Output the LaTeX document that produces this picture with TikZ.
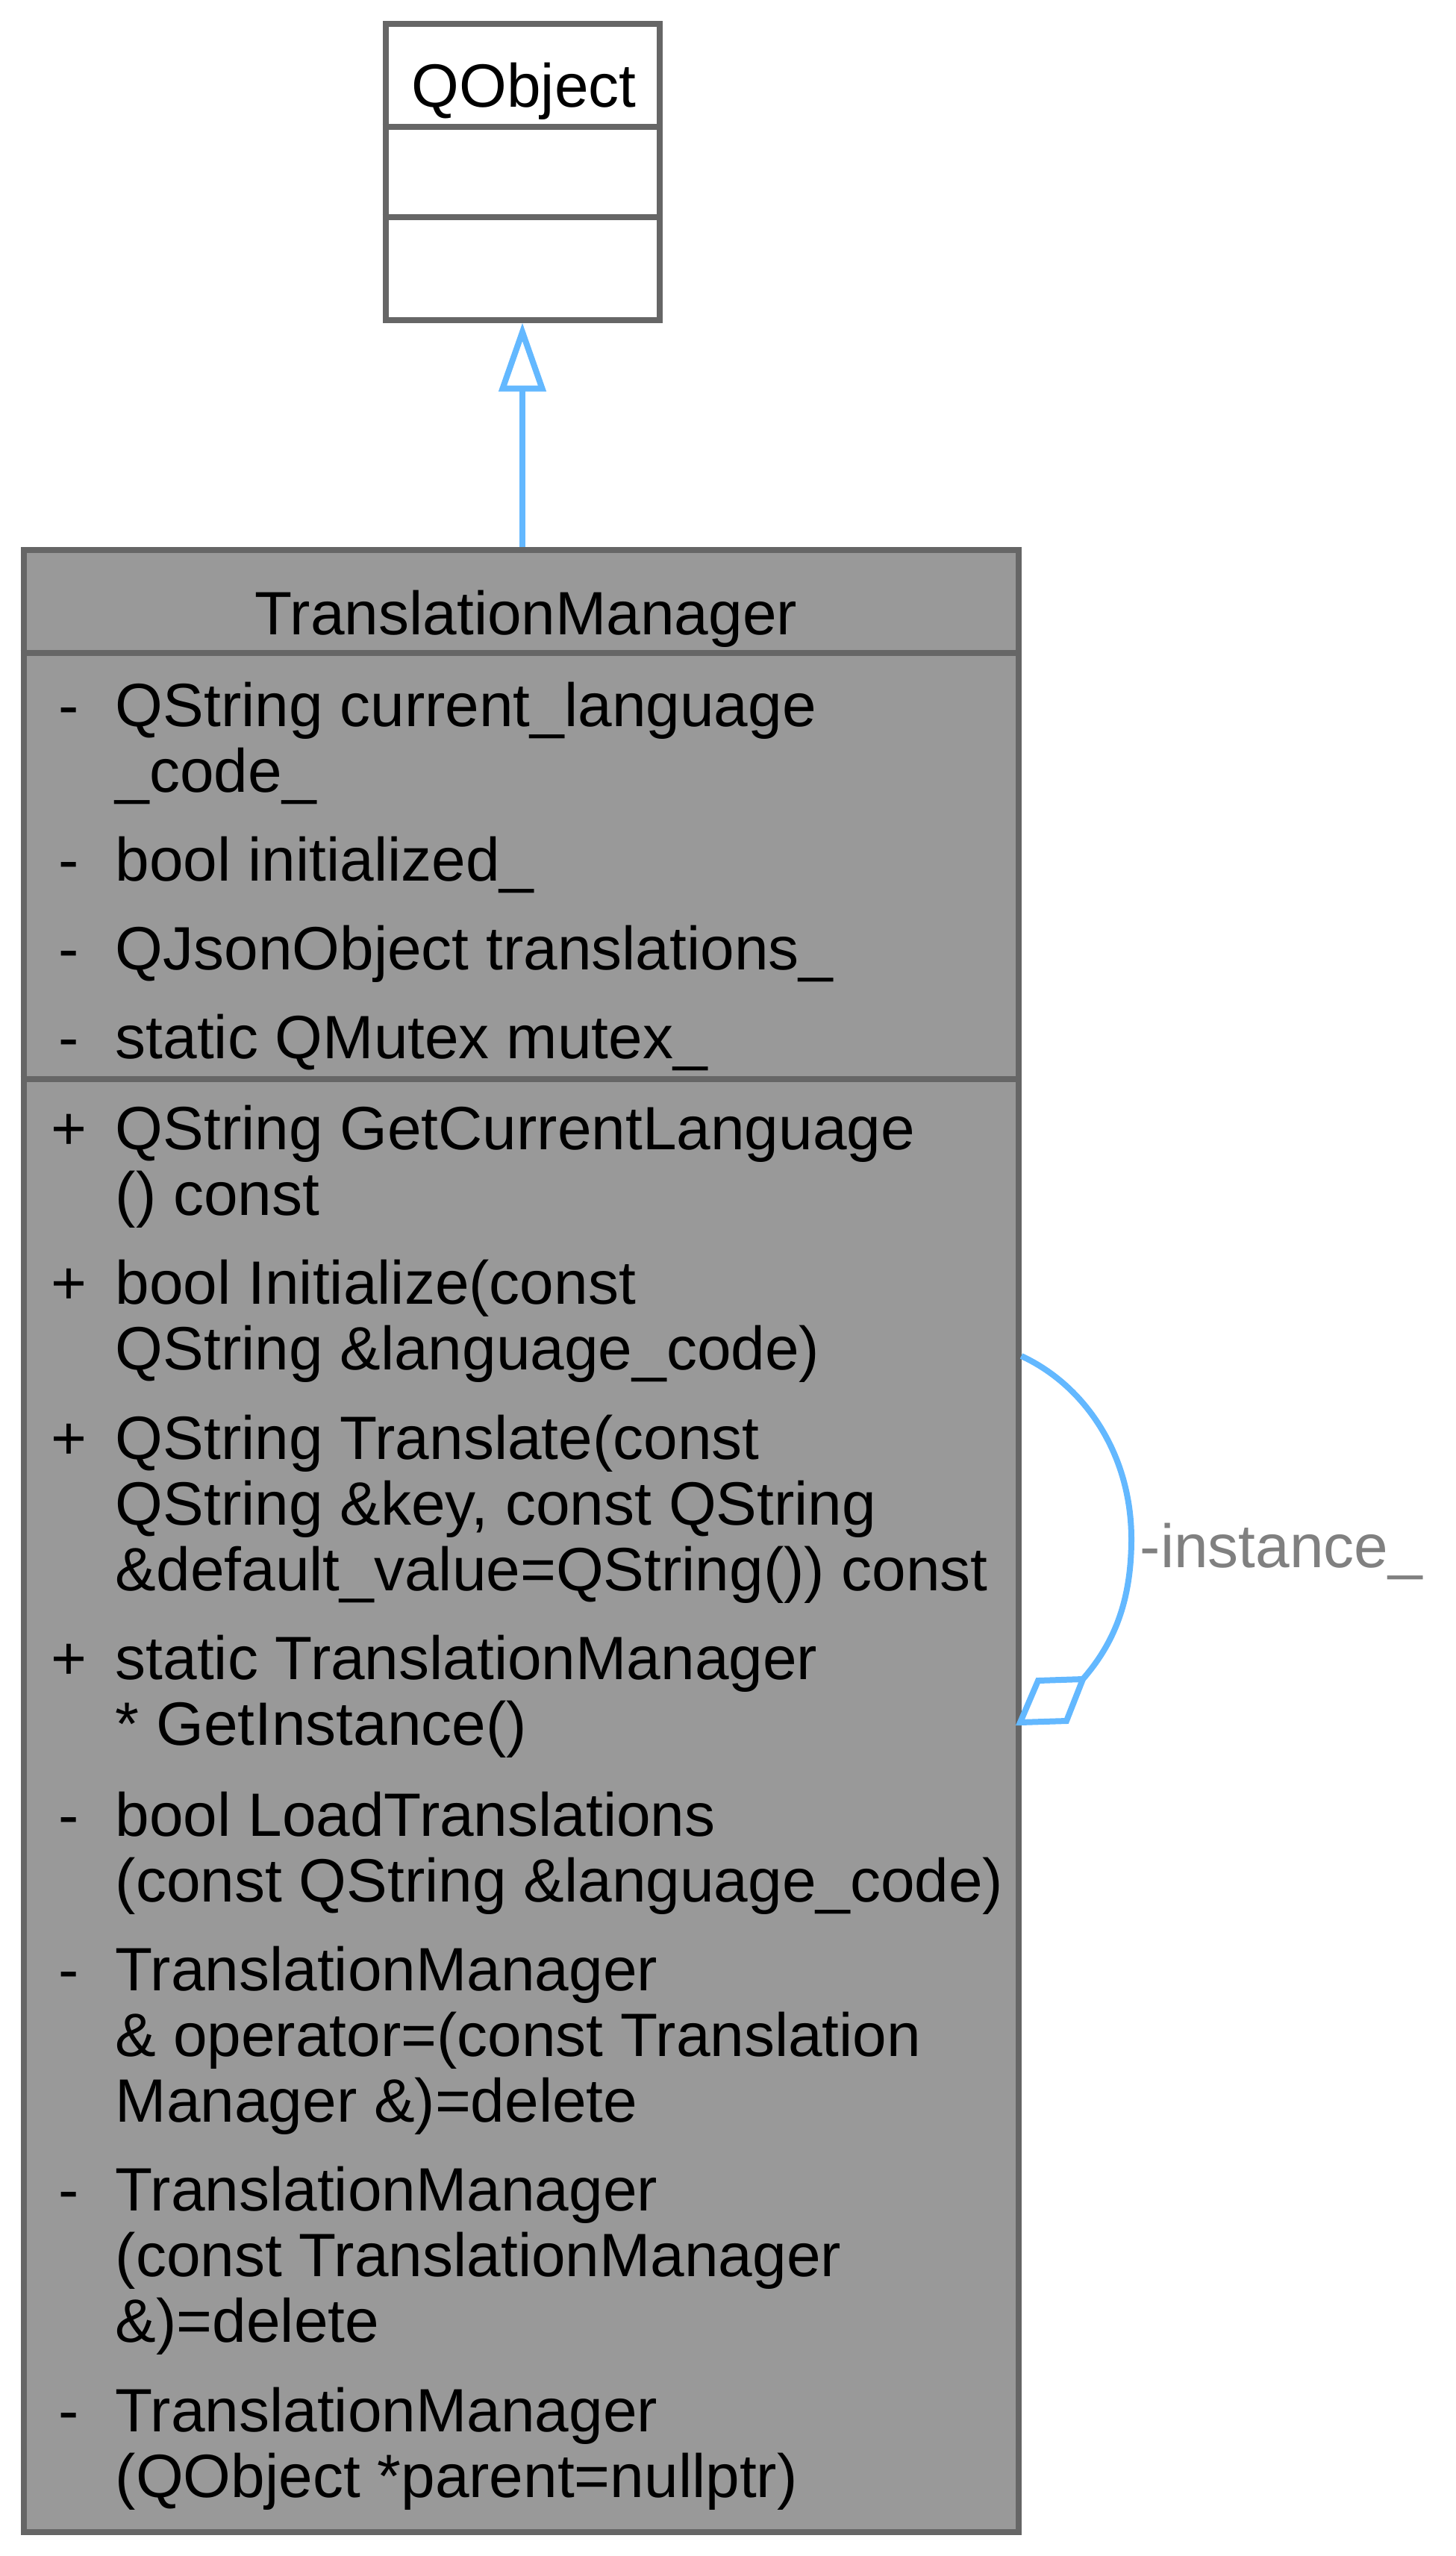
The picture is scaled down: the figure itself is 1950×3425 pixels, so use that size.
\documentclass[tikz,border=0pt]{standalone}
\usepackage{fontspec}
\setmainfont{Liberation Sans}
\usetikzlibrary{arrows.meta}
\definecolor{boxgray}{HTML}{999999}
\definecolor{edgegray}{HTML}{666666}
\definecolor{linkblue}{HTML}{63B8FF}
\definecolor{labelgray}{HTML}{808080}
\tikzset{
  umltext/.style={anchor=base west, inner sep=0pt, font=\fontsize{20.5}{22}\selectfont, text=black},
  umlsym/.style={anchor=base, inner sep=0pt, font=\fontsize{20.5}{22}\selectfont, text=black},
  umltitle/.style={anchor=base, inner sep=0pt, font=\fontsize{20.5}{22}\selectfont, text=black},
  classbox/.style={draw=edgegray, line width=2pt, inner sep=0pt},
  divider/.style={draw=edgegray, line width=2pt},
  linkline/.style={draw=linkblue, line width=2pt},
  edgelabel/.style={anchor=base west, inner sep=0pt, font=\fontsize{20.5}{22}\selectfont, text=labelgray}
}
\begin{document}
\begin{tikzpicture}[x=0.25pt, y=-0.25pt]
\useasboundingbox (0,0) rectangle (1950,3425);
% QObject box
\node[classbox, fill=white, minimum width=91.75pt, minimum height=99pt] (qo) at (700,230.5) {};
\draw[divider] (qo.west |- 0,170) -- (qo.east |- 0,170);
\draw[divider] (qo.west |- 0,291) -- (qo.east |- 0,291);
\node[umltitle] (qotitle) at (702,144) {QObject};
% TranslationManager box
\node[classbox, fill=boxgray, minimum width=333.25pt, minimum height=664pt] (tm) at (698,2065) {};
\draw[divider] (tm.west |- 0,875) -- (tm.east |- 0,875);
\draw[divider] (tm.west |- 0,1446) -- (tm.east |- 0,1446);
\node[umltitle] (tmtitle) at (705,850) {TranslationManager};
% attributes
\node[umlsym] (s1) at (92,973) {-};
\node[umltext] (a1) at (154,973) {QString current\_language};
\node[umltext] (a1b) at (154,1061) {\_code\_};
\node[umlsym] (s2) at (92,1180) {-};
\node[umltext] (a2) at (154,1180) {bool initialized\_};
\node[umlsym] (s3) at (92,1299) {-};
\node[umltext] (a3) at (154,1299) {QJsonObject translations\_};
\node[umlsym] (s4) at (92,1418) {-};
\node[umltext] (a4) at (154,1418) {static QMutex mutex\_};
% methods
\node[umlsym] (m1s) at (92,1540) {+};
\node[umltext] (m1) at (154,1540) {QString GetCurrentLanguage};
\node[umltext] (m1b) at (154,1628) {() const};
\node[umlsym] (m2s) at (92,1747) {+};
\node[umltext] (m2) at (154,1747) {bool Initialize(const};
\node[umltext] (m2b) at (154,1835) {QString \&language\_code)};
\node[umlsym] (m3s) at (92,1955) {+};
\node[umltext] (m3) at (154,1955) {QString Translate(const};
\node[umltext] (m3b) at (154,2043) {QString \&key, const QString};
\node[umltext] (m3c) at (154,2131) {\&default\_value=QString()) const};
\node[umlsym] (m4s) at (92,2250) {+};
\node[umltext] (m4) at (154,2250) {static TranslationManager};
\node[umltext] (m4b) at (154,2338) {* GetInstance()};
\node[umlsym] (m5s) at (92,2460) {-};
\node[umltext] (m5) at (154,2460) {bool LoadTranslations};
\node[umltext] (m5b) at (154,2548) {(const QString \&language\_code)};
\node[umlsym] (m6s) at (92,2667) {-};
\node[umltext] (m6) at (154,2667) {TranslationManager};
\node[umltext] (m6b) at (154,2755) {\& operator=(const Translation};
\node[umltext] (m6c) at (154,2843) {Manager \&)=delete};
\node[umlsym] (m7s) at (92,2962) {-};
\node[umltext] (m7) at (154,2962) {TranslationManager};
\node[umltext] (m7b) at (154,3050) {(const TranslationManager};
\node[umltext] (m7c) at (154,3138) {\&)=delete};
\node[umlsym] (m8s) at (92,3258) {-};
\node[umltext] (m8) at (154,3258) {TranslationManager};
\node[umltext] (m8b) at (154,3346) {(QObject *parent=nullptr)};
% inheritance arrow
\draw[linkline, -{Triangle[open, length=23pt, width=15.5pt, fill=white]}] (tm.north -| 700,0) -- (qo.south -| 700,0);
% self association -instance_
\coordinate (loopstart) at (tm.east |- 0,1817);
\coordinate (dtip) at (1367,2308);
\coordinate (dfar) at (1451,2250);
\draw[linkline] (loopstart) .. controls (1455,1857) and (1516,1950) .. (1516,2062)
  .. controls (1516,2150) and (1490,2205) .. (dfar);
\draw[linkline, fill=white, line join=miter] (dtip) -- (1391,2252) -- (dfar) -- (1429,2306) -- cycle;
\node[edgelabel] (instlabel) at (1527,2100) {-instance\_};
\end{tikzpicture}
\end{document}
